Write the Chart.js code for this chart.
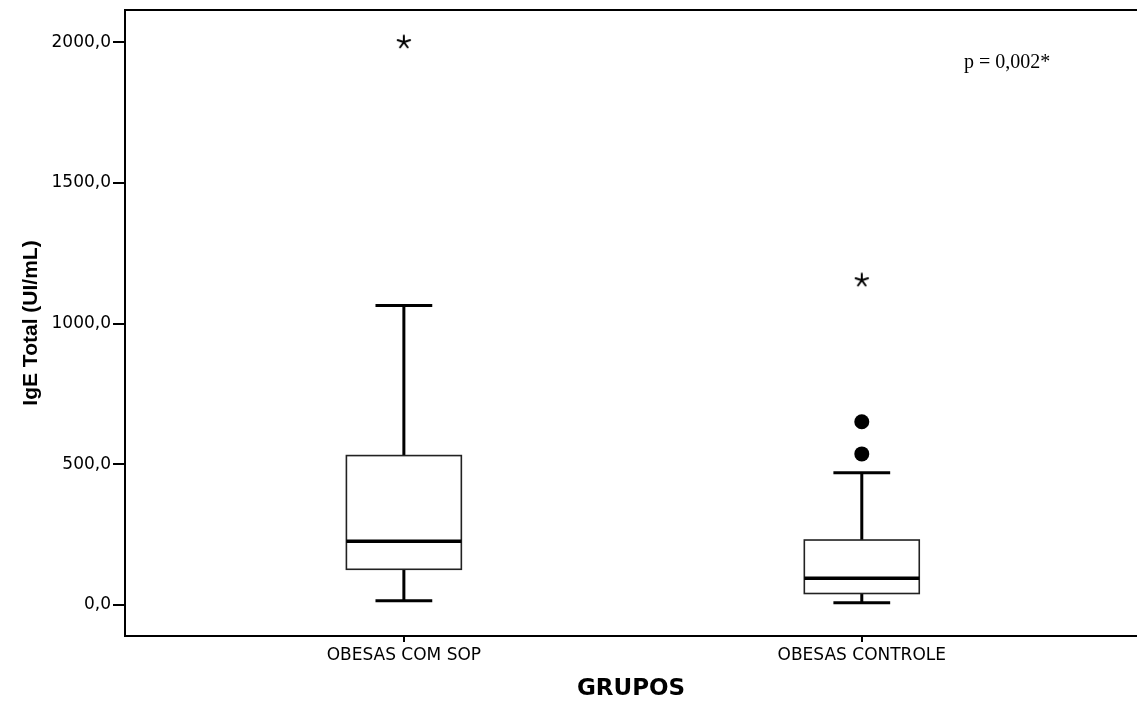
<!DOCTYPE html>
<html>
<head>
<meta charset="utf-8">
<script src="https://cdn.jsdelivr.net/npm/chart.js@4/dist/chart.umd.min.js"></script>
<style>
  html, body { margin: 0; padding: 0; background: #fff; }
  #wrap { width: 1137px; height: 706px; }
</style>
</head>
<body>
<div id="wrap"><canvas id="graficoIgE" width="1137" height="706"></canvas></div>
<script>
// valores
const grupos = ['OBESAS COM SOP', 'OBESAS CONTROLE'];
const bigodeInferior = [15, 8];
const quartil1 = [127, 41];
const mediana = [227, 95];
const quartil3 = [531, 231];
const bigodeSuperior = [1064, 470];
const outliers = [[], [537, 651]];
const extremos = [[2000], [1154]];
const ticksY = [0, 500, 1000, 1500, 2000];
const textoP = 'p = 0,002*';

const MEIA_CAIXA = 0.1255;
const MEIO_TRACO = 0.062;

// asterisco de 5 pontas para os valores extremos
function criarEstrela() {
    const c = document.createElement('canvas');
    c.width = 16; c.height = 16;
    const g = c.getContext('2d');
    g.strokeStyle = '#000';
    g.lineWidth = 2;
    g.lineCap = 'round';
    for (let i = 0; i < 5; i++) {
        const a = -Math.PI / 2 + i * 2 * Math.PI / 5;
        g.beginPath();
        g.moveTo(8, 8);
        g.lineTo(8 + 6.5 * Math.cos(a), 8 + 6.5 * Math.sin(a));
        g.stroke();
    }
    return c;
}

const pontosOutliers = [];
const pontosExtremos = [];
grupos.forEach((g, i) => {
    outliers[i].forEach(v => pontosOutliers.push({ x: i + 1, y: v }));
    extremos[i].forEach(v => pontosExtremos.push({ x: i + 1, y: v }));
});

const pluginCaixas = {
    id: 'caixas',
    beforeDatasetsDraw(chart) {
        const ctx = chart.ctx;
        const x = chart.scales.x;
        const y = chart.scales.y;
        ctx.save();
        grupos.forEach((g, i) => {
            const cx = x.getPixelForValue(i + 1);
            const hw = x.getPixelForValue(i + 1 + MEIA_CAIXA) - cx;
            const tw = x.getPixelForValue(i + 1 + MEIO_TRACO) - cx;
            const yLo = y.getPixelForValue(bigodeInferior[i]);
            const yQ1 = y.getPixelForValue(quartil1[i]);
            const yMed = y.getPixelForValue(mediana[i]);
            const yQ3 = y.getPixelForValue(quartil3[i]);
            const yHi = y.getPixelForValue(bigodeSuperior[i]);

            ctx.strokeStyle = '#000';
            ctx.lineWidth = 3;
            ctx.beginPath();
            ctx.moveTo(cx, yQ3); ctx.lineTo(cx, yHi);
            ctx.moveTo(cx - tw, yHi); ctx.lineTo(cx + tw, yHi);
            ctx.moveTo(cx, yQ1); ctx.lineTo(cx, yLo);
            ctx.moveTo(cx - tw, yLo); ctx.lineTo(cx + tw, yLo);
            ctx.stroke();

            ctx.fillStyle = '#fff';
            ctx.fillRect(cx - hw, yQ3, hw * 2, yQ1 - yQ3);
            ctx.strokeStyle = '#222';
            ctx.lineWidth = 1.6;
            ctx.strokeRect(cx - hw, yQ3, hw * 2, yQ1 - yQ3);

            ctx.strokeStyle = '#000';
            ctx.lineWidth = 3.5;
            ctx.beginPath();
            ctx.moveTo(cx - hw, yMed); ctx.lineTo(cx + hw, yMed);
            ctx.stroke();
        });
        ctx.restore();
    },
    afterDraw(chart) {
        const ctx = chart.ctx;
        const area = chart.chartArea;
        ctx.save();
        ctx.strokeStyle = '#000';
        ctx.lineWidth = 2;
        ctx.beginPath();
        ctx.moveTo(area.left - 1, area.top);
        ctx.lineTo(area.right, area.top);
        ctx.stroke();

        ctx.fillStyle = '#000';
        ctx.font = '20px "Liberation Serif", "Times New Roman", serif';
        ctx.textAlign = 'left';
        ctx.textBaseline = 'alphabetic';
        ctx.fillText(textoP, area.right - 173, 68);
        ctx.restore();
    }
};

const ctx = document.getElementById('graficoIgE').getContext('2d');

new Chart(ctx, {
    type: 'scatter',
    data: {
        datasets: [
            {
                label: 'Outliers',
                data: pontosOutliers,
                pointStyle: 'circle',
                pointRadius: 7.5,
                backgroundColor: '#000',
                borderColor: '#000',
                borderWidth: 0
            },
            {
                label: 'Extremos',
                data: pontosExtremos,
                pointStyle: criarEstrela(),
                pointRadius: 8,
                backgroundColor: '#000',
                borderColor: '#000'
            }
        ]
    },
    options: {
        responsive: false,
        animation: false,
        layout: { autoPadding: false, padding: { top: 10, right: 0, bottom: 0, left: 0 } },
        plugins: {
            legend: { display: false },
            tooltip: { enabled: false }
        },
        scales: {
            x: {
                type: 'linear',
                min: 0.391,
                max: 2.601,
                afterBuildTicks(scale) {
                    scale.ticks = grupos.map((g, i) => ({ value: i + 1 }));
                },
                afterFit(scale) {
                    scale.height = 70;
                    scale.paddingLeft = 0;
                    scale.paddingRight = 0;
                },
                ticks: {
                    color: '#000',
                    padding: 3,
                    maxRotation: 0,
                    font: { family: '"DejaVu Sans", sans-serif', size: 17 },
                    callback: (v) => grupos[Math.round(v) - 1]
                },
                grid: {
                    drawOnChartArea: false,
                    drawTicks: true,
                    tickLength: 6,
                    color: '#000',
                    lineWidth: 2
                },
                border: { display: true, color: '#000', width: 2 },
                title: {
                    display: true,
                    text: 'GRUPOS',
                    color: '#000',
                    padding: { top: 0, bottom: 3 },
                    font: { family: '"DejaVu Sans", sans-serif', size: 23, weight: 'bold' }
                }
            },
            y: {
                min: -110,
                max: 2114,
                afterBuildTicks(scale) {
                    scale.ticks = ticksY.map(v => ({ value: v }));
                },
                afterFit(scale) {
                    scale.width = 125;
                    scale.paddingTop = 0;
                    scale.paddingBottom = 0;
                },
                ticks: {
                    color: '#000',
                    padding: 2,
                    font: { family: '"DejaVu Sans", sans-serif', size: 17 },
                    callback: (v) => v.toFixed(1).replace('.', ',')
                },
                grid: {
                    drawOnChartArea: false,
                    drawTicks: true,
                    tickLength: 12,
                    color: '#000',
                    lineWidth: 2
                },
                border: { display: true, color: '#000', width: 2 },
                title: {
                    display: true,
                    text: 'IgE Total (UI/mL)',
                    color: '#000',
                    padding: { top: 19, bottom: 0 },
                    font: { family: '"Liberation Sans", Arial, sans-serif', size: 21, weight: 'bold' }
                }
            }
        }
    },
    plugins: [pluginCaixas]
});
</script>
</body>
</html>
